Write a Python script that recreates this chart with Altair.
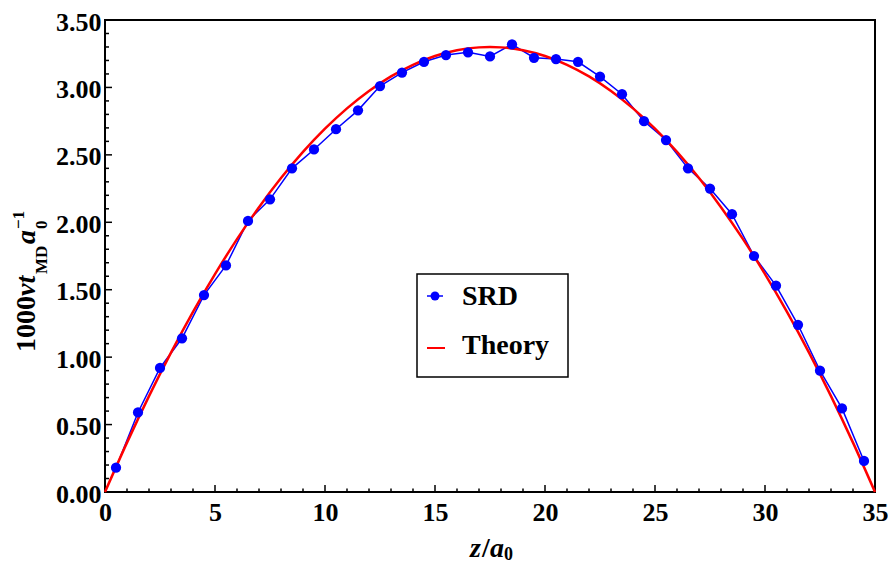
import altair as alt
import pandas as pd

# ---------------- data ----------------
z_srd = [0.5, 1.5, 2.5, 3.5, 4.5, 5.5, 6.5, 7.5, 8.5, 9.5, 10.5, 11.5, 12.5, 13.5,
         14.5, 15.5, 16.5, 17.5, 18.5, 19.5, 20.5, 21.5, 22.5, 23.5, 24.5, 25.5,
         26.5, 27.5, 28.5, 29.5, 30.5, 31.5, 32.5, 33.5, 34.5]
v_srd = [0.18, 0.59, 0.92, 1.14, 1.46, 1.68, 2.01, 2.17, 2.40, 2.54, 2.69, 2.83,
         3.01, 3.11, 3.19, 3.24, 3.26, 3.23, 3.32, 3.22, 3.21, 3.19, 3.08, 2.95,
         2.75, 2.61, 2.40, 2.25, 2.06, 1.75, 1.53, 1.24, 0.90, 0.62, 0.23]

z_theory = [0, 1, 2, 3, 4, 5, 6, 7, 8, 9, 10, 11, 12, 13, 14, 15, 16, 17, 17.5,
            18, 19, 20, 21, 22, 23, 24, 25, 26, 27, 28, 29, 30, 31, 32, 33, 34, 35]
v_theory = [0.0, 0.366, 0.711, 1.034, 1.336, 1.616, 1.875, 2.112, 2.328, 2.522,
            2.694, 2.845, 2.974, 3.082, 3.168, 3.233, 3.276, 3.297, 3.300,
            3.297, 3.276, 3.233, 3.168, 3.082, 2.974, 2.845, 2.694, 2.522, 2.328,
            2.112, 1.875, 1.616, 1.336, 1.034, 0.711, 0.366, 0.0]

x_major = [0, 5, 10, 15, 20, 25, 30, 35]
x_minor = [i for i in range(0, 36) if i % 5 != 0]
y_major = [0.0, 0.5, 1.0, 1.5, 2.0, 2.5, 3.0, 3.5]
y_minor = [round(i * 0.1, 1) for i in range(0, 36) if i % 5 != 0]

legend_labels = ["SRD", "Theory"]

# ---------------- styling ----------------
W, H = 770, 472
FONT = "Liberation Serif"
BLUE = "#0000ff"
RED = "#ff0000"

xs = alt.Scale(domain=[0, 35], nice=False, zero=False)
ys = alt.Scale(domain=[0, 3.5], nice=False, zero=False)

xaxis = alt.Axis(values=x_major, format="d", title=None, grid=False, ticks=False,
                 domain=False, labelFont=FONT, labelFontSize=26, labelFontWeight="bold",
                 labelColor="black", labelPadding=7, labelFlush=False, labelOverlap=False)
yaxis = alt.Axis(values=y_major, format=".2f", title=None, grid=False, ticks=False,
                 domain=False, labelFont=FONT, labelFontSize=26, labelFontWeight="bold",
                 labelColor="black", labelPadding=4, labelOffset=2, labelOverlap=False)

srd = pd.DataFrame({"z": z_srd, "v": v_srd})
theory = pd.DataFrame({"z": z_theory, "v": v_theory})
one = pd.DataFrame({"k": [0]})

X = alt.X("z:Q", scale=xs, axis=xaxis)
Y = alt.Y("v:Q", scale=ys, axis=yaxis)

srd_line = alt.Chart(srd).mark_line(color=BLUE, strokeWidth=1.5).encode(x=X, y=Y)
srd_pts = alt.Chart(srd).mark_circle(color=BLUE, size=105, opacity=1).encode(x=X, y=Y)
theory_line = alt.Chart(theory).mark_line(color=RED, strokeWidth=2.5,
                                          interpolate="monotone").encode(x=X, y=Y)

# inward ticks
def xticks(vals, length):
    df = pd.DataFrame({"z": vals})
    return alt.Chart(df).mark_rule(color="black", strokeWidth=1.5).encode(
        x=X, y=alt.value(H), y2=alt.value(H - length))

def yticks(vals, length):
    df = pd.DataFrame({"v": vals})
    return alt.Chart(df).mark_rule(color="black", strokeWidth=1.5).encode(
        y=Y, x=alt.value(0), x2=alt.value(length))

ticks = [xticks(x_major, 7), xticks(x_minor, 3.5), yticks(y_major, 7), yticks(y_minor, 4)]

# legend (custom, framed)
leg_box = alt.Chart(one).mark_rect(fill="white", stroke="black", strokeWidth=1.5).encode(
    x=alt.value(312), x2=alt.value(463), y=alt.value(254), y2=alt.value(357))
leg_srd_line = alt.Chart(one).mark_rule(color=BLUE, strokeWidth=1.5).encode(
    x=alt.value(322), x2=alt.value(338), y=alt.value(276))
leg_srd_pt = alt.Chart(one).mark_circle(color=BLUE, size=80, opacity=1).encode(
    x=alt.value(330), y=alt.value(276))
leg_th_line = alt.Chart(one).mark_rule(color=RED, strokeWidth=2).encode(
    x=alt.value(322), x2=alt.value(340), y=alt.value(328))
leg_txt1 = alt.Chart(one).mark_text(text=legend_labels[0], font=FONT, fontSize=28,
                                    fontWeight="bold", align="left", baseline="alphabetic",
                                    color="black").encode(x=alt.value(357), y=alt.value(285))
leg_txt2 = alt.Chart(one).mark_text(text=legend_labels[1], font=FONT, fontSize=28,
                                    fontWeight="bold", align="left", baseline="alphabetic",
                                    color="black").encode(x=alt.value(357), y=alt.value(334))

# axis titles composed of pieces (sub/superscripts)
def piece(txt, x, y, size, italic=False, angle=0):
    kw = dict(text=txt, font=FONT, fontSize=size, fontWeight="bold",
              align="left", baseline="alphabetic", color="black")
    if italic:
        kw["fontStyle"] = "italic"
    if angle:
        kw["angle"] = angle
    return alt.Chart(one).mark_text(**kw).encode(x=alt.value(x), y=alt.value(y))

# y title: 1000 v t_MD a_0^-1  (rotated, reading upward)
yt = [
    piece("1000", -70, 332, 28, angle=270),
    piece("vt", -70, 276, 28, italic=True, angle=270),
    piece("MD", -58, 254, 17, angle=270),
    piece("a", -70, 224, 28, italic=True, angle=270),
    piece("0", -58, 209, 17, angle=270),
    piece("\u22121", -81, 209, 17, angle=270),
]

# x title: z / a_0
xt = [
    piece("z", 365, 537, 28, italic=True),
    piece("/", 377, 537, 28),
    piece("a", 385, 537, 28, italic=True),
    piece("0", 399, 540, 18),
]

chart = alt.layer(
    *ticks, srd_line, theory_line, srd_pts,
    leg_box, leg_srd_line, leg_srd_pt, leg_th_line, leg_txt1, leg_txt2,
    *yt, *xt
).properties(
    width=W, height=H,
    autosize=alt.AutoSizeParams(type="none"),
    padding={"left": 97, "top": 12, "right": 13, "bottom": 74},
    background="white",
).configure_view(
    stroke="black", strokeWidth=2
)

chart.save("out.html", embed_options={"renderer": "svg", "actions": False})
